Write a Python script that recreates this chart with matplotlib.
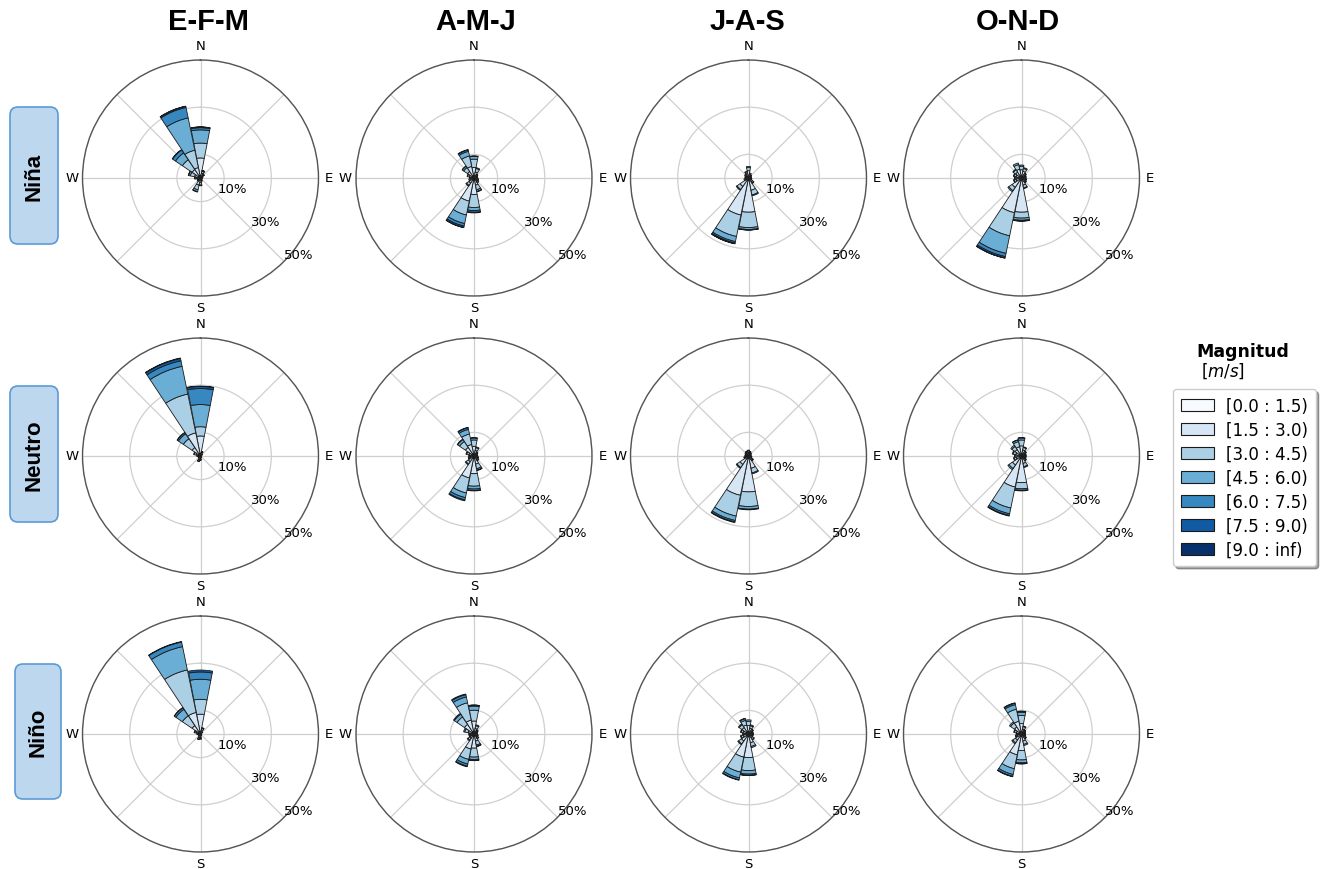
import numpy as np
import matplotlib
matplotlib.use("Agg")
import matplotlib.pyplot as plt
from matplotlib.patches import FancyBboxPatch, Patch
from matplotlib.transforms import IdentityTransform

# ---------------------------------------------------------------- data
directions = ["N", "NNE", "NE", "ENE", "E", "ESE", "SE", "SSE",
              "S", "SSW", "SW", "WSW", "W", "WNW", "NW", "NNW"]
speed_bins = ["[0.0 : 1.5)", "[1.5 : 3.0)", "[3.0 : 4.5)", "[4.5 : 6.0)",
              "[6.0 : 7.5)", "[7.5 : 9.0)", "[9.0 : inf)"]
seasons = ["E-F-M", "A-M-J", "J-A-S", "O-N-D"]
phases = ["Niña", "Neutro", "Niño"]
cardinals = ["N", "E", "S", "W"]
r_ticks = [10, 30, 50]
r_tick_labels = ["10%", "30%", "50%"]

# frequency (%) per direction (rows, N clockwise) and speed class (columns)
nina_efm = [
    [1.0, 7.5, 6.3, 5.6, 0.9, 0.3, 0.05],
    [0.6, 1.5, 0.8, 0.3, 0.1, 0.0, 0.0],
    [0.4, 1.0, 0.5, 0.1, 0.0, 0.0, 0.0],
    [0.3, 0.6, 0.2, 0.0, 0.0, 0.0, 0.0],
    [0.3, 0.4, 0.1, 0.0, 0.0, 0.0, 0.0],
    [0.3, 0.4, 0.1, 0.0, 0.0, 0.0, 0.0],
    [0.3, 0.4, 0.1, 0.0, 0.0, 0.0, 0.0],
    [0.4, 0.8, 0.3, 0.0, 0.0, 0.0, 0.0],
    [0.5, 1.5, 1.0, 0.3, 0.0, 0.0, 0.0],
    [0.6, 2.5, 2.0, 0.8, 0.2, 0.0, 0.0],
    [0.4, 0.8, 0.4, 0.1, 0.0, 0.0, 0.0],
    [0.4, 0.8, 0.3, 0.0, 0.0, 0.0, 0.0],
    [0.5, 1.2, 0.6, 0.2, 0.0, 0.0, 0.0],
    [0.6, 2.0, 1.8, 0.7, 0.2, 0.0, 0.0],
    [0.8, 3.5, 5.0, 3.5, 1.5, 0.2, 0.0],
    [1.0, 3.5, 7.5, 14.0, 4.5, 0.5, 0.1],
]
nina_amj = [
    [1.0, 3.5, 3.5, 1.2, 0.2, 0.0, 0.0],
    [0.6, 2.0, 1.5, 0.4, 0.0, 0.0, 0.0],
    [0.4, 1.0, 0.5, 0.1, 0.0, 0.0, 0.0],
    [0.4, 0.8, 0.4, 0.0, 0.0, 0.0, 0.0],
    [0.4, 0.8, 0.4, 0.0, 0.0, 0.0, 0.0],
    [0.4, 1.0, 0.5, 0.1, 0.0, 0.0, 0.0],
    [0.5, 1.2, 0.6, 0.2, 0.0, 0.0, 0.0],
    [0.6, 2.5, 2.0, 0.7, 0.2, 0.0, 0.0],
    [1.0, 6.0, 5.5, 1.3, 0.7, 0.3, 0.0],
    [1.0, 9.0, 6.0, 3.7, 1.1, 0.6, 0.1],
    [0.6, 2.0, 1.2, 0.4, 0.0, 0.0, 0.0],
    [0.5, 1.2, 0.6, 0.0, 0.0, 0.0, 0.0],
    [0.5, 1.0, 0.5, 0.0, 0.0, 0.0, 0.0],
    [0.5, 1.5, 0.8, 0.2, 0.0, 0.0, 0.0],
    [0.8, 2.5, 2.0, 0.7, 0.1, 0.0, 0.0],
    [1.0, 4.0, 4.5, 2.0, 0.6, 0.2, 0.0],
]
nina_jas = [
    [0.6, 2.5, 1.3, 0.5, 0.0, 0.0, 0.0],
    [0.5, 1.2, 0.5, 0.0, 0.0, 0.0, 0.0],
    [0.4, 0.9, 0.3, 0.0, 0.0, 0.0, 0.0],
    [0.4, 0.7, 0.2, 0.0, 0.0, 0.0, 0.0],
    [0.4, 0.7, 0.2, 0.0, 0.0, 0.0, 0.0],
    [0.4, 0.8, 0.3, 0.0, 0.0, 0.0, 0.0],
    [0.5, 1.5, 0.6, 0.2, 0.0, 0.0, 0.0],
    [0.8, 4.5, 2.0, 0.4, 0.0, 0.0, 0.0],
    [1.0, 13.5, 6.5, 0.8, 0.2, 0.05, 0.0],
    [1.0, 15.0, 9.3, 2.2, 0.6, 0.3, 0.1],
    [0.8, 3.5, 1.6, 0.4, 0.0, 0.0, 0.0],
    [0.5, 1.0, 0.5, 0.0, 0.0, 0.0, 0.0],
    [0.4, 0.8, 0.3, 0.0, 0.0, 0.0, 0.0],
    [0.4, 0.8, 0.4, 0.0, 0.0, 0.0, 0.0],
    [0.5, 1.0, 0.5, 0.0, 0.0, 0.0, 0.0],
    [0.5, 1.5, 0.7, 0.2, 0.0, 0.0, 0.0],
]
nina_ond = [
    [0.7, 2.8, 1.5, 0.5, 0.0, 0.0, 0.0],
    [0.6, 2.3, 1.2, 0.4, 0.0, 0.0, 0.0],
    [0.5, 1.2, 0.6, 0.2, 0.0, 0.0, 0.0],
    [0.4, 1.0, 0.5, 0.1, 0.0, 0.0, 0.0],
    [0.4, 1.0, 0.4, 0.1, 0.0, 0.0, 0.0],
    [0.4, 1.1, 0.5, 0.2, 0.0, 0.0, 0.0],
    [0.5, 1.3, 0.5, 0.2, 0.0, 0.0, 0.0],
    [0.6, 2.5, 1.2, 0.3, 0.0, 0.0, 0.0],
    [1.0, 13.5, 2.5, 0.9, 0.3, 0.1, 0.0],
    [1.0, 14.0, 10.0, 7.6, 1.4, 0.6, 0.1],
    [0.8, 4.0, 1.7, 0.5, 0.0, 0.0, 0.0],
    [0.6, 1.8, 0.8, 0.3, 0.0, 0.0, 0.0],
    [0.5, 1.5, 0.7, 0.2, 0.0, 0.0, 0.0],
    [0.6, 1.8, 0.9, 0.2, 0.0, 0.0, 0.0],
    [0.7, 2.3, 1.2, 0.3, 0.0, 0.0, 0.0],
    [0.8, 3.0, 2.0, 0.7, 0.0, 0.0, 0.0],
]
neutro_efm = [
    [0.8, 7.7, 3.9, 9.4, 6.8, 0.9, 0.1],
    [0.5, 1.0, 0.4, 0.1, 0.0, 0.0, 0.0],
    [0.3, 0.5, 0.2, 0.0, 0.0, 0.0, 0.0],
    [0.2, 0.3, 0.1, 0.0, 0.0, 0.0, 0.0],
    [0.2, 0.2, 0.1, 0.0, 0.0, 0.0, 0.0],
    [0.2, 0.2, 0.1, 0.0, 0.0, 0.0, 0.0],
    [0.2, 0.2, 0.1, 0.0, 0.0, 0.0, 0.0],
    [0.3, 0.4, 0.1, 0.0, 0.0, 0.0, 0.0],
    [0.4, 0.9, 0.4, 0.1, 0.0, 0.0, 0.0],
    [0.5, 1.2, 0.6, 0.2, 0.0, 0.0, 0.0],
    [0.3, 0.6, 0.3, 0.0, 0.0, 0.0, 0.0],
    [0.3, 0.5, 0.2, 0.0, 0.0, 0.0, 0.0],
    [0.4, 0.7, 0.3, 0.1, 0.0, 0.0, 0.0],
    [0.5, 1.4, 0.8, 0.3, 0.0, 0.0, 0.0],
    [0.8, 3.5, 4.5, 2.5, 0.6, 0.1, 0.0],
    [1.0, 9.0, 16.8, 12.0, 2.4, 1.0, 0.2],
]
neutro_amj = [
    [0.9, 3.2, 2.7, 0.8, 0.2, 0.0, 0.0],
    [0.6, 1.8, 1.2, 0.4, 0.0, 0.0, 0.0],
    [0.4, 1.0, 0.5, 0.1, 0.0, 0.0, 0.0],
    [0.4, 0.8, 0.4, 0.0, 0.0, 0.0, 0.0],
    [0.4, 0.8, 0.4, 0.0, 0.0, 0.0, 0.0],
    [0.4, 1.0, 0.5, 0.1, 0.0, 0.0, 0.0],
    [0.5, 1.2, 0.6, 0.2, 0.0, 0.0, 0.0],
    [0.7, 2.8, 2.0, 0.6, 0.2, 0.0, 0.0],
    [1.0, 6.5, 5.3, 1.2, 0.6, 0.2, 0.0],
    [1.0, 8.5, 6.5, 2.0, 1.0, 0.4, 0.0],
    [0.7, 2.2, 1.2, 0.4, 0.0, 0.0, 0.0],
    [0.5, 1.2, 0.6, 0.2, 0.0, 0.0, 0.0],
    [0.5, 1.0, 0.5, 0.2, 0.0, 0.0, 0.0],
    [0.6, 1.6, 1.0, 0.3, 0.0, 0.0, 0.0],
    [0.9, 3.5, 3.0, 1.0, 0.2, 0.0, 0.0],
    [1.0, 4.0, 4.5, 2.0, 0.7, 0.2, 0.0],
]
neutro_jas = [
    [0.5, 1.2, 0.6, 0.2, 0.0, 0.0, 0.0],
    [0.4, 1.0, 0.5, 0.1, 0.0, 0.0, 0.0],
    [0.4, 0.7, 0.3, 0.1, 0.0, 0.0, 0.0],
    [0.3, 0.6, 0.3, 0.0, 0.0, 0.0, 0.0],
    [0.3, 0.6, 0.3, 0.0, 0.0, 0.0, 0.0],
    [0.4, 0.7, 0.3, 0.1, 0.0, 0.0, 0.0],
    [0.5, 1.3, 0.5, 0.2, 0.0, 0.0, 0.0],
    [0.8, 4.5, 2.0, 0.4, 0.0, 0.0, 0.0],
    [1.0, 14.2, 6.2, 1.1, 0.3, 0.0, 0.0],
    [1.0, 16.0, 9.0, 1.9, 0.6, 0.3, 0.0],
    [0.8, 3.5, 1.6, 0.4, 0.0, 0.0, 0.0],
    [0.4, 1.0, 0.5, 0.1, 0.0, 0.0, 0.0],
    [0.4, 0.7, 0.3, 0.1, 0.0, 0.0, 0.0],
    [0.4, 0.7, 0.3, 0.1, 0.0, 0.0, 0.0],
    [0.4, 0.9, 0.4, 0.1, 0.0, 0.0, 0.0],
    [0.5, 1.1, 0.5, 0.1, 0.0, 0.0, 0.0],
]
neutro_ond = [
    [0.8, 3.5, 2.5, 0.8, 0.2, 0.0, 0.0],
    [0.6, 2.0, 1.1, 0.3, 0.0, 0.0, 0.0],
    [0.5, 1.2, 0.6, 0.2, 0.0, 0.0, 0.0],
    [0.4, 0.9, 0.5, 0.2, 0.0, 0.0, 0.0],
    [0.4, 0.9, 0.5, 0.2, 0.0, 0.0, 0.0],
    [0.4, 0.9, 0.5, 0.2, 0.0, 0.0, 0.0],
    [0.5, 1.2, 0.6, 0.2, 0.0, 0.0, 0.0],
    [0.6, 2.6, 1.4, 0.4, 0.0, 0.0, 0.0],
    [1.0, 10.3, 2.6, 0.6, 0.3, 0.0, 0.0],
    [1.0, 12.4, 9.1, 2.5, 0.7, 0.3, 0.0],
    [0.8, 3.8, 1.8, 0.6, 0.0, 0.0, 0.0],
    [0.6, 1.7, 0.9, 0.3, 0.0, 0.0, 0.0],
    [0.5, 1.4, 0.8, 0.3, 0.0, 0.0, 0.0],
    [0.6, 1.9, 1.1, 0.4, 0.0, 0.0, 0.0],
    [0.7, 2.6, 1.6, 0.6, 0.0, 0.0, 0.0],
    [0.8, 3.2, 2.2, 0.7, 0.1, 0.0, 0.0],
]
nino_efm = [
    [0.8, 7.6, 6.3, 8.5, 3.1, 0.8, 0.0],
    [0.5, 1.3, 0.7, 0.3, 0.0, 0.0, 0.0],
    [0.3, 0.6, 0.3, 0.0, 0.0, 0.0, 0.0],
    [0.2, 0.3, 0.1, 0.0, 0.0, 0.0, 0.0],
    [0.2, 0.2, 0.1, 0.0, 0.0, 0.0, 0.0],
    [0.2, 0.2, 0.1, 0.0, 0.0, 0.0, 0.0],
    [0.2, 0.2, 0.1, 0.0, 0.0, 0.0, 0.0],
    [0.3, 0.4, 0.1, 0.0, 0.0, 0.0, 0.0],
    [0.5, 1.0, 0.5, 0.2, 0.0, 0.0, 0.0],
    [0.5, 1.2, 0.6, 0.2, 0.0, 0.0, 0.0],
    [0.3, 0.6, 0.3, 0.0, 0.0, 0.0, 0.0],
    [0.3, 0.5, 0.2, 0.0, 0.0, 0.0, 0.0],
    [0.4, 0.7, 0.3, 0.1, 0.0, 0.0, 0.0],
    [0.5, 1.3, 0.7, 0.3, 0.0, 0.0, 0.0],
    [0.8, 3.5, 5.0, 3.3, 0.8, 0.1, 0.0],
    [1.0, 8.3, 18.4, 10.1, 2.0, 0.2, 0.0],
]
nino_amj = [
    [1.0, 4.5, 4.6, 1.7, 0.4, 0.1, 0.0],
    [0.6, 1.8, 1.2, 0.4, 0.0, 0.0, 0.0],
    [0.5, 1.0, 0.5, 0.2, 0.0, 0.0, 0.0],
    [0.4, 0.8, 0.4, 0.0, 0.0, 0.0, 0.0],
    [0.4, 0.7, 0.4, 0.0, 0.0, 0.0, 0.0],
    [0.4, 0.9, 0.4, 0.1, 0.0, 0.0, 0.0],
    [0.5, 1.2, 0.6, 0.2, 0.0, 0.0, 0.0],
    [0.6, 2.5, 1.7, 0.5, 0.2, 0.0, 0.0],
    [1.0, 5.0, 3.8, 1.0, 0.4, 0.1, 0.0],
    [1.0, 5.5, 4.5, 2.0, 0.9, 0.3, 0.0],
    [0.6, 1.6, 0.9, 0.4, 0.0, 0.0, 0.0],
    [0.5, 1.0, 0.5, 0.2, 0.0, 0.0, 0.0],
    [0.5, 1.0, 0.5, 0.2, 0.0, 0.0, 0.0],
    [0.6, 2.0, 1.4, 0.5, 0.0, 0.0, 0.0],
    [0.9, 4.0, 3.8, 1.4, 0.4, 0.0, 0.0],
    [1.0, 5.0, 7.5, 2.5, 1.0, 0.3, 0.0],
]
nino_jas = [
    [0.8, 2.8, 1.8, 0.6, 0.0, 0.0, 0.0],
    [0.6, 1.9, 1.1, 0.4, 0.0, 0.0, 0.0],
    [0.5, 1.2, 0.6, 0.2, 0.0, 0.0, 0.0],
    [0.4, 1.0, 0.5, 0.1, 0.0, 0.0, 0.0],
    [0.4, 1.0, 0.5, 0.1, 0.0, 0.0, 0.0],
    [0.4, 1.0, 0.5, 0.1, 0.0, 0.0, 0.0],
    [0.5, 1.5, 0.8, 0.2, 0.0, 0.0, 0.0],
    [0.8, 3.0, 1.6, 0.5, 0.0, 0.0, 0.0],
    [1.0, 9.0, 5.5, 1.5, 0.5, 0.1, 0.0],
    [1.0, 9.0, 6.5, 2.5, 0.8, 0.2, 0.0],
    [0.8, 2.8, 1.5, 0.4, 0.0, 0.0, 0.0],
    [0.6, 1.7, 0.9, 0.3, 0.0, 0.0, 0.0],
    [0.5, 1.2, 0.6, 0.2, 0.0, 0.0, 0.0],
    [0.6, 1.7, 0.9, 0.3, 0.0, 0.0, 0.0],
    [0.8, 2.5, 1.5, 0.4, 0.0, 0.0, 0.0],
    [0.9, 3.0, 2.0, 0.7, 0.2, 0.0, 0.0],
]
nino_ond = [
    [0.9, 3.5, 3.5, 1.3, 0.4, 0.1, 0.0],
    [0.6, 1.6, 1.0, 0.3, 0.0, 0.0, 0.0],
    [0.5, 1.0, 0.5, 0.2, 0.0, 0.0, 0.0],
    [0.4, 0.8, 0.4, 0.1, 0.0, 0.0, 0.0],
    [0.4, 0.8, 0.4, 0.1, 0.0, 0.0, 0.0],
    [0.4, 0.9, 0.4, 0.1, 0.0, 0.0, 0.0],
    [0.5, 1.2, 0.6, 0.2, 0.0, 0.0, 0.0],
    [0.6, 2.4, 1.5, 0.5, 0.0, 0.0, 0.0],
    [1.0, 6.0, 4.0, 1.2, 0.4, 0.1, 0.0],
    [1.0, 8.0, 6.0, 2.5, 0.8, 0.2, 0.0],
    [0.7, 2.4, 1.4, 0.5, 0.0, 0.0, 0.0],
    [0.5, 1.3, 0.7, 0.2, 0.0, 0.0, 0.0],
    [0.5, 1.1, 0.5, 0.2, 0.0, 0.0, 0.0],
    [0.6, 1.6, 0.9, 0.3, 0.0, 0.0, 0.0],
    [0.8, 2.8, 2.0, 0.6, 0.0, 0.0, 0.0],
    [1.0, 4.5, 5.2, 2.0, 0.6, 0.2, 0.0],
]

tables = [
    [nina_efm, nina_amj, nina_jas, nina_ond],
    [neutro_efm, neutro_amj, neutro_jas, neutro_ond],
    [nino_efm, nino_amj, nino_jas, nino_ond],
]

# ---------------------------------------------------------------- figure
W, H = 1327, 870
fig = plt.figure(figsize=(W / 100, H / 100), dpi=100)
colors = plt.cm.Blues(np.linspace(0.0, 1.0, len(speed_bins)))

col_cx = [200.5, 474, 748.5, 1021.5]
title_cx = [208, 476, 747, 1018]
row_cy = [179, 457, 735]
rad = 118

theta = np.deg2rad(np.arange(len(directions)) * 360.0 / len(directions))
width = 2 * np.pi / len(directions) * 0.97

# cardinal label offsets outside the circle (pixels, x right / y up)
card_offsets = {"N": (0, 133), "E": (128.5, 0), "S": (0, -130), "W": (-128.5, 0)}


def draw_rose(ax, table):
    data = np.asarray(table, dtype=float)
    bottom = np.zeros(len(directions))
    for k in range(len(speed_bins)):
        h = data[:, k]
        m = h > 0
        ax.bar(theta[m], h[m], width=width, bottom=bottom[m],
               color=colors[k], edgecolor="#1a1a1a", linewidth=0.6,
               zorder=3)
        bottom = bottom + h


for i, row in enumerate(tables):
    for j, table in enumerate(row):
        rect = [(col_cx[j] - rad) / W, 1 - (row_cy[i] + rad) / H,
                2 * rad / W, 2 * rad / H]
        ax = fig.add_axes(rect, projection="polar")
        ax.set_theta_zero_location("N")
        ax.set_theta_direction(-1)
        draw_rose(ax, table)
        ax.set_ylim(0, 50)
        ax.set_rgrids(r_ticks, labels=[""] * len(r_ticks))
        ax.set_thetagrids(np.arange(0, 360, 45), labels=[""] * 8)
        ax.grid(True, color="#cfcfcf", linewidth=0.9, zorder=0)
        ax.set_axisbelow(True)
        ax.spines["polar"].set_color("#555555")
        ax.spines["polar"].set_linewidth(1.0)
        for r, lab in zip(r_ticks, r_tick_labels):
            ax.text(np.deg2rad(135), r, lab, ha="left", va="bottom",
                    fontsize=9.5, zorder=5)
        for c in cardinals:
            dx, dy = card_offsets[c]
            ax.text(0.5 + dx / (2 * rad), 0.5 + dy / (2 * rad), c,
                    transform=ax.transAxes, ha="center", va="center",
                    fontsize=9.5)
        if i == 0:
            fig.text(title_cx[j] / W, 1 - 22 / H, seasons[j],
                     ha="center", va="center", fontsize=21,
                     fontweight="bold", family="Liberation Sans")

# row labels in rounded boxes
boxes = [(10, 108, 48, 137), (10, 387, 48, 136), (15, 665, 46, 135)]
for (x0, y0, w, h), name in zip(boxes, phases):
    patch = FancyBboxPatch((x0, H - y0 - h), w, h,
                           boxstyle="round,pad=0,rounding_size=8",
                           transform=IdentityTransform(),
                           facecolor="#bdd7ee", edgecolor="#5b9bd5",
                           linewidth=1.2)
    fig.patches.append(patch)
    fig.text((x0 + w / 2) / W, 1 - (y0 + h / 2) / H, name,
             rotation=90, ha="center", va="center", fontsize=16,
             fontweight="bold", family="Liberation Sans")

# legend
fig.text(1243 / W, 1 - 352 / H, "Magnitud", ha="center", va="center",
         fontsize=12.5, fontweight="bold")
fig.text(1201 / W, 1 - 371 / H, "$[m/s]$", ha="left", va="center",
         fontsize=12)
handles = [Patch(facecolor=c, edgecolor="#1a1a1a", linewidth=0.8)
           for c in colors]
fig.legend(handles, speed_bins, loc="upper left",
           bbox_to_anchor=(1173 / W, 1 - 390 / H), fontsize=12,
           frameon=True, fancybox=True, shadow=True,
           handlelength=2.0, handleheight=0.75, labelspacing=0.36,
           borderpad=0.45, handletextpad=0.75, borderaxespad=0.0,
           edgecolor="#cccccc")

fig.savefig("out.png", dpi=100)
